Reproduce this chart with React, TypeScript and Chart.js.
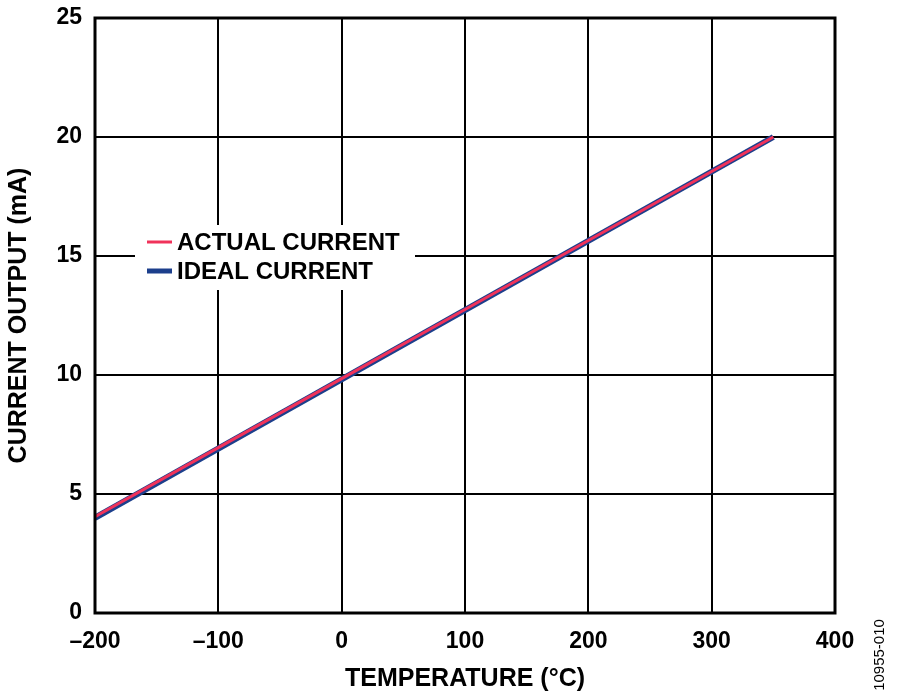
import { useRef, useEffect } from "react";
import { Chart, registerables } from "chart.js";

Chart.register(...registerables);

// temperatures (°C) and current output (mA)
const idealTemps = [-200, 350];
const idealCurrent = [4, 20];
const actualTemps = [-200, -100, 0, 100, 200, 300, 350];
const actualCurrent = [4.05, 6.95, 9.85, 12.75, 15.65, 18.55, 20.0];

const seriesLabels = ["ACTUAL CURRENT", "IDEAL CURRENT"];
const seriesColors = ["#f0325a", "#1c3f8c"];
const xTicks = [-200, -100, 0, 100, 200, 300, 400];
const yTicks = [0, 5, 10, 15, 20, 25];

const FONT = "'Liberation Sans', Arial, sans-serif";

const toPoints = (xs: number[], ys: number[]) => xs.map((x, i) => ({ x, y: ys[i] }));

const framePlugin = {
    id: "frame",
    afterDatasetsDraw(chart: any) {
        const { ctx, chartArea: a } = chart;
        ctx.save();
        ctx.strokeStyle = "#000";
        ctx.lineWidth = 3;
        ctx.strokeRect(a.left, a.top, a.right - a.left, a.bottom - a.top);
        ctx.restore();
    },
};

const legendPlugin = {
    id: "insideLegend",
    afterDatasetsDraw(chart: any) {
        const { ctx, chartArea: a } = chart;
        const x0 = a.left + 40;
        const y0 = a.top + 207;
        ctx.save();
        ctx.fillStyle = "#fff";
        ctx.fillRect(x0, y0, 280, 65);
        ctx.font = `bold 24px ${FONT}`;
        ctx.textBaseline = "middle";
        chart.data.datasets.forEach((ds: any, i: number) => {
            const cy = y0 + 17 + i * 29;
            ctx.strokeStyle = ds.borderColor;
            ctx.lineWidth = i === 0 ? 3 : 5;
            ctx.beginPath();
            ctx.moveTo(x0 + 12, cy);
            ctx.lineTo(x0 + 37, cy);
            ctx.stroke();
            ctx.fillStyle = "#000";
            ctx.fillText(ds.label, x0 + 42, cy + 1);
        });
        ctx.restore();
    },
};

const watermarkPlugin = {
    id: "watermark",
    afterDraw(chart: any) {
        const { ctx } = chart;
        ctx.save();
        ctx.translate(880, 655);
        ctx.rotate(-Math.PI / 2);
        ctx.font = `15px ${FONT}`;
        ctx.fillStyle = "#000";
        ctx.textAlign = "center";
        ctx.textBaseline = "middle";
        ctx.fillText("10955-010", 0, 0);
        ctx.restore();
    },
};

export default function App() {
    const canvasRef = useRef<HTMLCanvasElement>(null);
    const chartRef = useRef<Chart | null>(null);

    useEffect(() => {
        document.body.style.margin = "0";
        if (canvasRef && canvasRef.current) {
            chartRef.current = new Chart(canvasRef.current, {
                type: "line",
                data: {
                    datasets: [
                        {
                            label: seriesLabels[0],
                            data: toPoints(actualTemps, actualCurrent),
                            borderColor: seriesColors[0],
                            borderWidth: 3,
                            pointRadius: 0,
                            order: 1,
                        },
                        {
                            label: seriesLabels[1],
                            data: toPoints(idealTemps, idealCurrent),
                            borderColor: seriesColors[1],
                            borderWidth: 6,
                            pointRadius: 0,
                            order: 2,
                        },
                    ],
                },
                plugins: [framePlugin, legendPlugin, watermarkPlugin],
                options: {
                    animation: false,
                    responsive: false,
                    devicePixelRatio: 1,
                    layout: { padding: { left: 0, top: 18, right: 65, bottom: 0 } },
                    plugins: { legend: { display: false }, tooltip: { enabled: false } },
                    scales: {
                        x: {
                            type: "linear",
                            min: -200,
                            max: 400,
                            afterBuildTicks: (s: any) => { s.ticks = xTicks.map((v) => ({ value: v })); },
                            afterFit: (s: any) => { s.height = 85; s.paddingLeft = 0; s.paddingRight = 0; },
                            grid: { color: "#000", lineWidth: 2, drawTicks: false },
                            border: { display: false },
                            ticks: {
                                color: "#000",
                                font: { family: FONT, size: 23, weight: "bold" },
                                padding: 15,
                                callback: (v: any) => (Number(v) < 0 ? "\u2013" + Math.abs(v) : String(v)),
                            },
                            title: {
                                display: true,
                                text: "TEMPERATURE (°C)",
                                color: "#000",
                                font: { family: FONT, size: 25, weight: "bold" },
                                padding: { top: 4 },
                            },
                        },
                        y: {
                            min: 0,
                            max: 25,
                            afterBuildTicks: (s: any) => { s.ticks = yTicks.map((v) => ({ value: v })); },
                            afterFit: (s: any) => { s.width = 95; s.paddingTop = 0; s.paddingBottom = 0; },
                            grid: { color: "#000", lineWidth: 2, drawTicks: false },
                            border: { display: false },
                            ticks: {
                                color: "#000",
                                font: { family: FONT, size: 23, weight: "bold" },
                                padding: 13,
                            },
                            title: {
                                display: true,
                                text: "CURRENT OUTPUT (mA)",
                                color: "#000",
                                font: { family: FONT, size: 25, weight: "bold" },
                                padding: { bottom: 4 },
                            },
                        },
                    },
                },
            } as any);
        }

        return () => {
            if (chartRef.current) {
                chartRef.current.destroy();
                chartRef.current = null;
            }
        };
    }, []);

    return (
        <div style={{ width: 900, height: 698, background: "#fff" }}>
            <canvas ref={canvasRef} width={900} height={698} />
        </div>
    );
}
